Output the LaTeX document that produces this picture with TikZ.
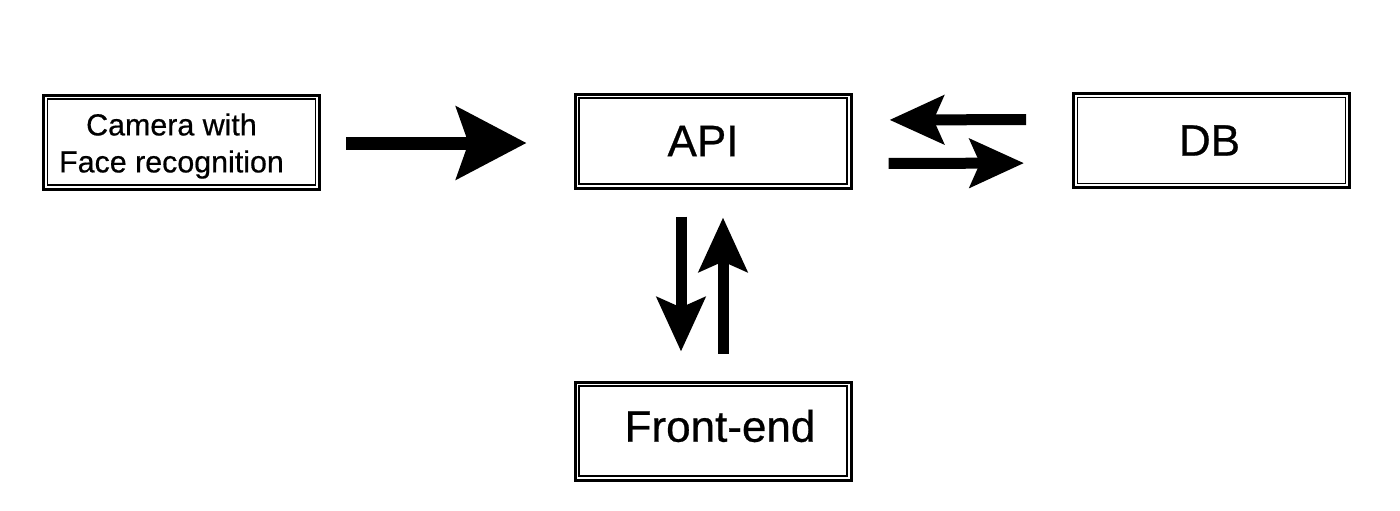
\documentclass[tikz,border=0pt]{standalone}
\usepackage{fontspec}
\setmainfont{Liberation Sans}
\newfontfamily\boxfont[FakeBold=0.6]{Liberation Sans}
\usetikzlibrary{arrows.meta,calc}
\begin{document}
\begin{tikzpicture}[x=0.5pt,y=-0.5pt,
  box/.style={draw, line width=1.5pt, minimum width=138pt, minimum height=47pt, inner sep=0pt},
  innerline/.style={draw, line width=0.55pt},
  lbl/.style={inner sep=0pt, align=center},
  big/.style={font=\boxfont\fontsize{22}{26}\selectfont},
  small/.style={font=\boxfont\fontsize{15.2}{18.5}\selectfont},
  bigarrow/.style={line width=6.5pt, -{Stealth[length=35pt, width=36pt, inset=6pt]}},
  midarrow/.style={line width=5.5pt, -{Stealth[length=27pt, width=24pt, inset=5pt]}}
]
\useasboundingbox (0,0) rectangle (1400,510);
\node[box] (cam) at (181.5,142) {};
\node[box] (api) at (713,141) {};
\node[box] (db) at (1211.5,140.5) {};
\node[box, minimum height=49pt] (fe) at (713,431) {};
\foreach \n in {cam,api,db,fe}
  \draw[innerline] ([shift={(5.5,-5.5)}]\n.south west) rectangle ([shift={(-5.5,5.5)}]\n.north east);

\node[lbl, small] (camt) at ([shift={(-10,4)}]cam.center) {Camera with\\Face recognition};
\node[lbl, big] (apit) at ([shift={(-10,0)}]api.center) {API};
\node[lbl, big] (dbt) at ([shift={(-2,0)}]db.center) {DB};
\node[lbl, big] (fet) at ([shift={(7,-5)}]fe.center) {Front-end};

\draw[bigarrow, shorten <=12.5pt, shorten >=23.5pt] ([shift={(0,1)}]cam.east) -- ([shift={(0,2)}]api.west);
\draw[midarrow, shorten <=23pt, shorten >=18.5pt] ([shift={(0,-21)}]db.west) -- ([shift={(0,-21)}]api.east);
\draw[midarrow, shorten <=18pt, shorten >=24pt] ([shift={(0,22.5)}]api.east) -- ([shift={(0,22.5)}]db.west);
\draw[midarrow, shorten <=13.5pt, shorten >=14.5pt] ([shift={(-32,0)}]api.south) -- ([shift={(-32,0)}]fe.north);
\draw[midarrow, shorten <=13.5pt, shorten >=14pt] ([shift={(10,0)}]fe.north) -- ([shift={(10,0)}]api.south);
\end{tikzpicture}
\end{document}
